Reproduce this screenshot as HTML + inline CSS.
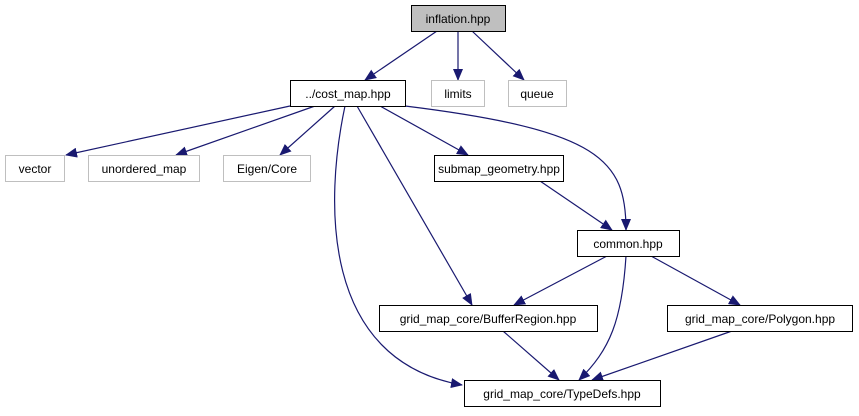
<!DOCTYPE html>
<html><head><meta charset="utf-8"><style>
body{margin:0;background:#fff}
text{font-family:"Liberation Sans",sans-serif;font-size:12px;text-anchor:middle}
</style></head><body>
<svg width="859" height="411" xmlns="http://www.w3.org/2000/svg">
<defs><marker id="a" markerWidth="12" markerHeight="10" refX="11" refY="5" orient="auto" markerUnits="userSpaceOnUse"><path d="M0,0L12,5L0,10z" fill="#191970"/></marker></defs>
<g fill="none" stroke="#191970" stroke-width="1.2" marker-end="url(#a)">
<path d="M437,31L365,80"/>
<path d="M458,31L458,80"/>
<path d="M472,31L524,80"/>
<path d="M290,106L66,155"/>
<path d="M315,106L176,155"/>
<path d="M335,106L280,155"/>
<path d="M380,106L468,155"/>
<path d="M405,106C600,130 626,160 626,230"/>
<path d="M345,106C325,200 320,360 462,385"/>
<path d="M357,106L472,305"/>
<path d="M540,181L612,230"/>
<path d="M607,256L514,305"/>
<path d="M626,256C622,320 610,350 579,380"/>
<path d="M651,256L740,305"/>
<path d="M503,331L559,380"/>
<path d="M732,331L592,380"/>
</g>
<g stroke-width="1">
<rect x="411.5" y="5.5" width="94" height="26" fill="#bfbfbf" stroke="#000"/>
<rect x="290.5" y="80.5" width="115" height="26" fill="#fff" stroke="#000"/>
<rect x="431.5" y="80.5" width="53" height="26" fill="#fff" stroke="#bfbfbf"/>
<rect x="508.5" y="80.5" width="58" height="26" fill="#fff" stroke="#bfbfbf"/>
<rect x="5.5" y="155.5" width="59" height="26" fill="#fff" stroke="#bfbfbf"/>
<rect x="88.5" y="155.5" width="111" height="26" fill="#fff" stroke="#bfbfbf"/>
<rect x="223.5" y="155.5" width="87" height="26" fill="#fff" stroke="#bfbfbf"/>
<rect x="434.5" y="155.5" width="129" height="26" fill="#fff" stroke="#000"/>
<rect x="577.5" y="230.5" width="102" height="26" fill="#fff" stroke="#000"/>
<rect x="379.5" y="305.5" width="218" height="26" fill="#fff" stroke="#000"/>
<rect x="667.5" y="305.5" width="185" height="26" fill="#fff" stroke="#000"/>
<rect x="464.5" y="380.5" width="196" height="26" fill="#fff" stroke="#000"/>
</g>
<text x="458" y="23">inflation.hpp</text>
<text x="348" y="98">../cost_map.hpp</text>
<text x="458" y="98">limits</text>
<text x="537" y="98">queue</text>
<text x="35" y="173">vector</text>
<text x="144" y="173">unordered_map</text>
<text x="267" y="173">Eigen/Core</text>
<text x="499" y="173">submap_geometry.hpp</text>
<text x="628" y="248">common.hpp</text>
<text x="488" y="323">grid_map_core/BufferRegion.hpp</text>
<text x="760" y="323">grid_map_core/Polygon.hpp</text>
<text x="562" y="398">grid_map_core/TypeDefs.hpp</text>
</svg>
</body></html>
